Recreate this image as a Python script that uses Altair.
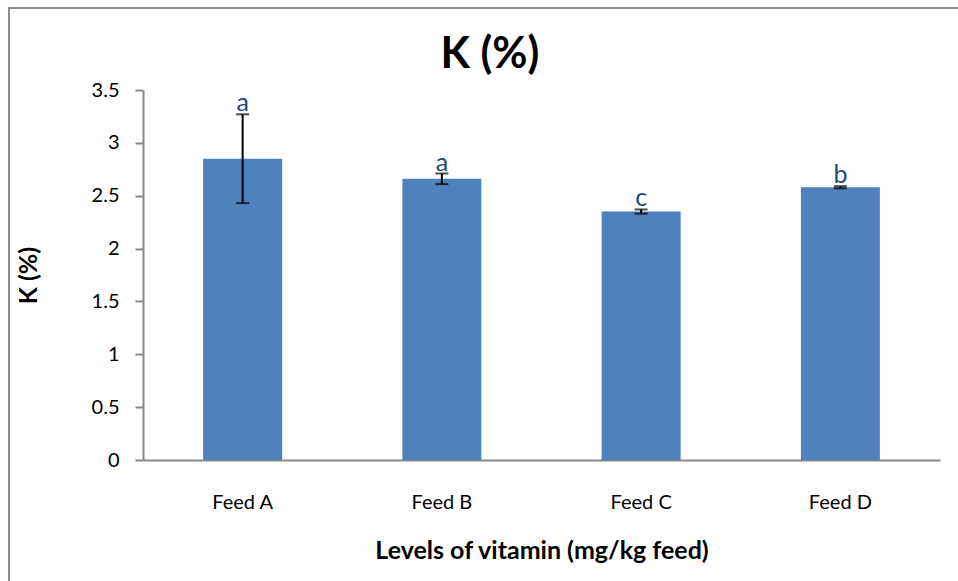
import altair as alt
import pandas as pd

feeds = ["Feed A", "Feed B", "Feed C", "Feed D"]
values = [2.85, 2.66, 2.35, 2.58]
errors = [0.42, 0.05, 0.02, 0.01]
letters = ["a", "a", "c", "b"]
title_text = "K (%)"

df = pd.DataFrame({
    "feed": feeds,
    "value": values,
    "lo": [v - e for v, e in zip(values, errors)],
    "hi": [v + e for v, e in zip(values, errors)],
    "letter": letters,
})

FONT = "Lato"

x_enc = alt.X("feed:N", sort=feeds,
              scale=alt.Scale(paddingInner=0, paddingOuter=0),
              axis=alt.Axis(title="Levels of vitamin (mg/kg feed)", labelAngle=0,
                            ticks=False, labelPadding=32, labelFontSize=20,
                            labelColor="black", labelFont=FONT,
                            titleFont=FONT, titleFontSize=25, titleFontWeight="bold",
                            titleColor="black", titlePadding=26,
                            domainColor="#888888", domainWidth=2))

base = alt.Chart(df)

bars = base.mark_bar(size=79, color="#4F81BD").encode(
    x=x_enc,
    y=alt.Y("value:Q", scale=alt.Scale(domain=[0, 3.5]),
            axis=alt.Axis(title="K (%)", values=[0, 0.5, 1, 1.5, 2, 2.5, 3, 3.5],
                          format="~g",
                          grid=False, tickSize=8, tickColor="#888888", tickWidth=2,
                          domainColor="#888888", domainWidth=2,
                          labelFontSize=20, labelColor="black", labelFont=FONT,
                          labelPadding=16,
                          titleFont=FONT, titleFontSize=25, titleFontWeight="bold",
                          titleColor="black", titlePadding=50)),
)

rules = base.mark_rule(color="black", strokeWidth=2).encode(
    x=alt.X("feed:N", sort=feeds), y="lo:Q", y2="hi:Q")
cap_lo = base.mark_tick(color="black", orient="horizontal", size=13, thickness=2).encode(
    x=alt.X("feed:N", sort=feeds), y="lo:Q")
cap_hi = base.mark_tick(color="black", orient="horizontal", size=13, thickness=2).encode(
    x=alt.X("feed:N", sort=feeds), y="hi:Q")

labels = base.mark_text(color="#1F497D", fontSize=25, font=FONT, baseline="alphabetic",
                        dy=-3).encode(
    x=alt.X("feed:N", sort=feeds), y="hi:Q", text="letter:N")

border = alt.Chart(pd.DataFrame({"b": [0]})).mark_rect(
    fillOpacity=0, stroke="#8c8c8c", strokeWidth=2, clip=False).encode(
    x=alt.value(-134), x2=alt.value(840), y=alt.value(-82), y2=alt.value(520))

title = alt.Chart(pd.DataFrame({"t": [title_text]})).mark_text(
    font=FONT, fontSize=43, fontWeight="bold", color="black",
    baseline="alphabetic", align="center").encode(
    text="t:N", x=alt.value(347), y=alt.value(-22))

chart = alt.layer(border, bars, rules, cap_lo, cap_hi, labels, title).properties(
    width=797, height=370,
    padding={"left": 143, "top": 90, "right": 18, "bottom": 121},
    autosize="none",
).configure(background="white").configure_view(stroke=None)

chart.save("out.html", embed_options={"renderer": "svg", "actions": False})
